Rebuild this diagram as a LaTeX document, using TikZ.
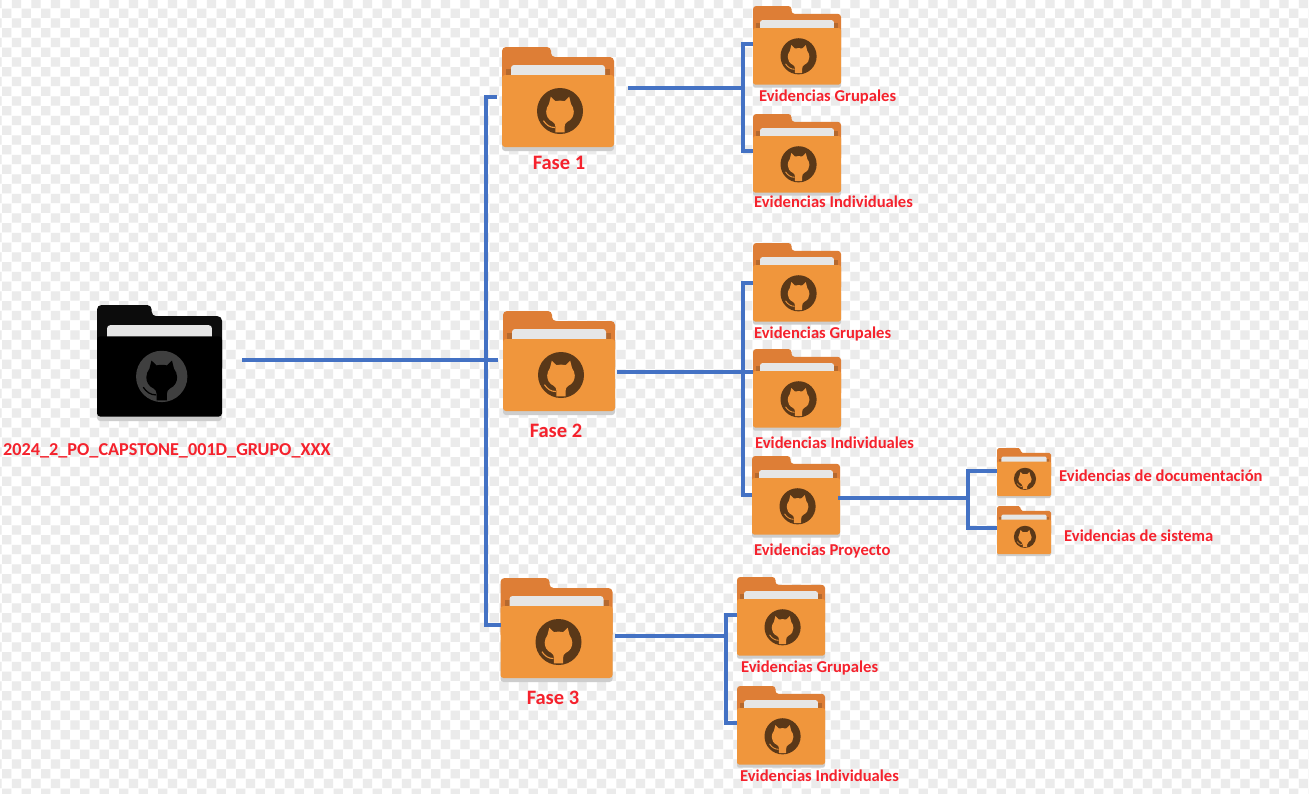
\documentclass[tikz,border=0pt]{standalone}
\usepackage{fontspec}
\setmainfont{Carlito}
\definecolor{connblue}{HTML}{4472C4}
\definecolor{labelred}{HTML}{F5222D}
\definecolor{checker}{HTML}{EBEBEB}
\definecolor{ofront}{HTML}{F0963C}
\definecolor{oback}{HTML}{DE7E36}
\definecolor{ostrip}{HTML}{B5692E}
\definecolor{ologo}{HTML}{5A3818}
\definecolor{kback}{HTML}{0C0C0C}
\definecolor{klogo}{HTML}{3F3F3F}
\definecolor{fshadow}{HTML}{CDCDCD}
\definecolor{fpaper}{HTML}{E6E6E6}
\tikzset{
  conn/.style={draw=connblue,line width=4pt,line cap=butt,line join=miter},
  biglabel/.style={text=labelred,font=\bfseries\fontsize{20.5}{24}\selectfont,inner sep=0pt},
  rootlabel/.style={text=labelred,font=\bfseries\fontsize{18.2}{21}\selectfont,inner sep=0pt,anchor=west},
  smalllabel/.style={text=labelred,font=\bfseries\fontsize{16.6}{20}\selectfont,inner sep=0pt,anchor=west},
  anchorbox/.style={inner sep=0pt,outer sep=0pt}
}
% name, x, y, width, front, back, strip, logo
\newcommand{\folderat}[8]{%
  \pgfmathsetmacro{\fs}{#4/112}%
  \begin{scope}[shift={(#2,#3)},scale=\fs]
    \fill[fshadow,rounded corners=3pt*\fs] (0,60) rectangle (112,104);
    \fill[#6,rounded corners=4pt*\fs] (0,0) -- (49,0) -- (49,10) -- (112,10) -- (112,60) -- (0,60) -- cycle;
    \fill[#7] (4,22) rectangle (108,30);
    \fill[fpaper,rounded corners=3pt*\fs] (9,18) rectangle (103,40);
    \fill[#5,rounded corners=3pt*\fs] (0,28) rectangle (112,100);
    \begin{scope}[shift={(58,64)},scale=23]
      \fill[#8] (0,0) circle (1);
      \fill[#5] (-0.2,0.93) -- (-0.2,0.68) .. controls (-0.2,0.58) and (-0.24,0.52) .. (-0.32,0.47)
        .. controls (-0.52,0.38) and (-0.6,0.2) .. (-0.6,0.03)
        .. controls (-0.6,-0.1) and (-0.55,-0.2) .. (-0.48,-0.3)
        -- (-0.4,-0.62) -- (-0.2,-0.43) .. controls (-0.08,-0.46) and (0.08,-0.46) .. (0.2,-0.43)
        -- (0.4,-0.62) -- (0.48,-0.3) .. controls (0.55,-0.2) and (0.6,-0.1) .. (0.6,0.03)
        .. controls (0.6,0.2) and (0.52,0.38) .. (0.32,0.47)
        .. controls (0.24,0.52) and (0.2,0.58) .. (0.2,0.68) -- (0.2,0.93) -- cycle;
      \draw[#5,line width=1.1pt*\fs] (-0.72,0.42) .. controls (-0.6,0.6) and (-0.45,0.72) .. (-0.22,0.72);
    \end{scope}
    \node[anchorbox,minimum width=#4 pt,minimum height=104*\fs pt] (#1) at (56,52) {};
  \end{scope}%
}
\newcommand{\orangefolder}[4]{\folderat{#1}{#2}{#3}{#4}{ofront}{oback}{ostrip}{ologo}}
\begin{document}
\begin{tikzpicture}[x=1pt,y=-1pt]
\useasboundingbox (0,0) rectangle (1309,793);
\fill[white] (0,0) rectangle (1309,793);
% checker background
\fill[checker] \foreach \j in {0,2,...,80} { \foreach \i in {0,2,...,134} {
    ({2+9.75*\i},{8.5+9.75*\j}) rectangle ({11.4+9.75*\i},{17.9+9.75*\j}) } };
\fill[checker] \foreach \j in {-1,1,...,79} { \foreach \i in {-1,1,...,133} {
    ({2+9.75*\i},{8.5+9.75*\j}) rectangle ({11.4+9.75*\i},{17.9+9.75*\j}) } };
% folders
\folderat{root}{97}{305}{125}{black}{kback}{kback}{klogo}
\orangefolder{fase1}{502}{47}{112}
\orangefolder{fase2}{503}{311}{112}
\orangefolder{fase3}{500.5}{578}{112}
\orangefolder{ga}{753}{6}{88}
\orangefolder{ia}{753}{114}{88}
\orangefolder{gb}{753}{243}{88}
\orangefolder{ib}{753}{349}{88}
\orangefolder{pb}{752}{456}{88}
\orangefolder{doc}{997}{448}{54}
\orangefolder{sis}{997}{506}{54}
\orangefolder{gc}{737}{577}{88}
\orangefolder{ic}{737}{686}{88}
% labels
\node[rootlabel] (lroot) at (3,451) {2024\_2\_PO\_CAPSTONE\_001D\_GRUPO\_XXX};
\node[biglabel] (l1) at (559,163) {Fase 1};
\node[biglabel] (l2) at (556,431) {Fase 2};
\node[biglabel] (l3) at (553,698) {Fase 3};
\node[smalllabel] (lga) at (759,96.5) {Evidencias Grupales};
\node[smalllabel] (lia) at (754,202) {Evidencias Individuales};
\node[smalllabel] (lgb) at (754,333.5) {Evidencias Grupales};
\node[smalllabel] (lib) at (755,443) {Evidencias Individuales};
\node[smalllabel] (lpb) at (754,550.5) {Evidencias Proyecto};
\node[smalllabel] (ldoc) at (1059,476) {Evidencias de documentación};
\node[smalllabel] (lsis) at (1064,536) {Evidencias de sistema};
\node[smalllabel] (lgc) at (741,668) {Evidencias Grupales};
\node[smalllabel] (lic) at (740,776) {Evidencias Individuales};
% bus coordinates
\coordinate (rootout) at (242,360);
\coordinate (mainmid) at (486,360);
\coordinate (maintop) at (486,97);
\coordinate (mainbot) at (486,625);
\coordinate (aout) at (628,88);
\coordinate (amid) at (743,88);
\coordinate (atop) at (743,44);
\coordinate (abot) at (743,151);
\coordinate (bout) at (617,372);
\coordinate (bmid) at (743,372);
\coordinate (btop) at (743,283);
\coordinate (bbot) at (743,495);
\coordinate (cout) at (615,636);
\coordinate (cmid) at (726,636);
\coordinate (ctop) at (726,615);
\coordinate (cbot) at (726,723);
\coordinate (dout) at (838,498);
\coordinate (dmid) at (968,498);
\coordinate (dtop) at (968,471);
\coordinate (dbot) at (968,528);
% connectors
\draw[conn] (rootout) -- (mainmid);
\draw[conn] (fase1.west |- maintop) ++(-5,0) -- (maintop) -- (mainbot) -- (fase3.west |- mainbot);
\draw[conn,shorten >=5pt] (mainmid) -- (mainmid -| fase2.west);
\draw[conn] (aout) -- (amid);
\draw[conn] (ga.west |- atop) -- (atop) -- (abot) -- (ia.west |- abot);
\draw[conn] (bout) -- (bmid);
\draw[conn] (gb.west |- btop) -- (btop) -- (bbot) -- (pb.west |- bbot);
\draw[conn] (bmid) -- (bmid -| ib.west);
\draw[conn] (cout) -- (cmid);
\draw[conn] (gc.west |- ctop) -- (ctop) -- (cbot) -- (ic.west |- cbot);
\draw[conn] (dout) -- (dmid);
\draw[conn] (doc.west |- dtop) -- (dtop) -- (dbot) -- (sis.west |- dbot);
\end{tikzpicture}
\end{document}
